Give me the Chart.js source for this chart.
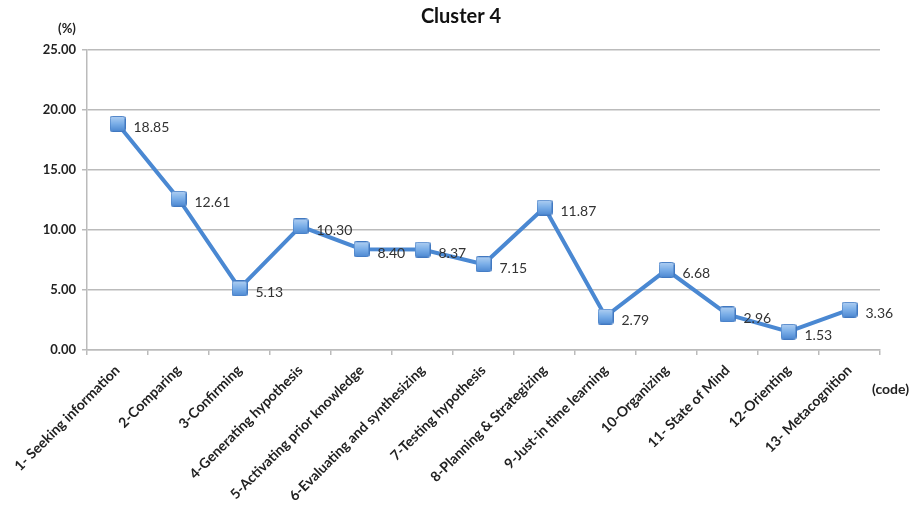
<!DOCTYPE html>
<html>
<head>
<meta charset="utf-8">
<title>Cluster 4</title>
<script src="https://cdn.jsdelivr.net/npm/chart.js@4.4.0/dist/chart.umd.min.js"></script>
<style>
  html, body { margin: 0; padding: 0; background: #fff; }
  #wrap { width: 917px; height: 524px; }
</style>
</head>
<body>
<div id="wrap"><canvas id="chart" width="917" height="524"></canvas></div>
<script>
const codes = [
    '1- Seeking information', '2-Comparing', '3-Confirming', '4-Generating hypothesis',
    '5-Activating prior knowledge', '6-Evaluating and synthesizing', '7-Testing hypothesis',
    '8-Planning & Strategizing', '9-Just-in time learning', '10-Organizing',
    '11- State of Mind', '12-Orienting', '13- Metacognition'
];
const percentages = [18.85, 12.61, 5.13, 10.30, 8.40, 8.37, 7.15, 11.87, 2.79, 6.68, 2.96, 1.53, 3.36];
const yTicks = [0, 5, 10, 15, 20, 25];

const FONT = 'Lato, "Open Sans", sans-serif';

// square marker with a soft blue gradient
function makeMarker() {
    const c = document.createElement('canvas');
    c.width = 16; c.height = 16;
    const g = c.getContext('2d');
    const grad = g.createLinearGradient(0, 0, 0, 16);
    grad.addColorStop(0, '#b3d1f3');
    grad.addColorStop(0.5, '#7aaee8');
    grad.addColorStop(1, '#4a86d0');
    g.fillStyle = grad;
    g.strokeStyle = '#4178c0';
    g.lineWidth = 1;
    g.beginPath();
    g.roundRect(0.5, 0.5, 15, 15, 2);
    g.fill();
    g.stroke();
    return c;
}
const marker = makeMarker();

// value labels beside each point, plus title and axis units
const annotations = {
    id: 'annotations',
    afterDatasetsDraw(chart) {
        const ctx = chart.ctx;
        const meta = chart.getDatasetMeta(0);
        ctx.save();
        ctx.fillStyle = '#333';
        ctx.font = '14px ' + FONT;
        ctx.textAlign = 'left';
        ctx.textBaseline = 'middle';
        meta.data.forEach((pt, i) => {
            ctx.fillText(percentages[i].toFixed(2), pt.x + 16, pt.y + 4);
        });
        ctx.restore();
    },
    afterDraw(chart) {
        const ctx = chart.ctx;
        ctx.save();
        ctx.fillStyle = '#111';
        ctx.textBaseline = 'middle';
        ctx.textAlign = 'center';
        ctx.font = 'bold 20px ' + FONT;
        ctx.fillText('Cluster 4', 461, 17);
        ctx.font = 'bold 13px ' + FONT;
        ctx.fillStyle = '#222';
        ctx.fillText('(%)', 67, 29);
        ctx.textAlign = 'left';
        ctx.font = 'bold 14px ' + FONT;
        ctx.fillText('(code)', 872, 389);
        ctx.restore();
    }
};

new Chart(document.getElementById('chart'), {
    type: 'line',
    data: {
        labels: codes,
        datasets: [{
            data: percentages,
            borderColor: '#4a88d2',
            borderWidth: 4,
            pointStyle: marker,
            pointRadius: 8,
            tension: 0
        }]
    },
    options: {
        responsive: false,
        animation: false,
        layout: { padding: { top: 50, right: 37, left: 0, bottom: 0 } },
        plugins: {
            legend: { display: false },
            tooltip: { enabled: false }
        },
        scales: {
            x: {
                offset: true,
                grid: { offset: true, drawOnChartArea: false, color: '#bbb', tickLength: 5, lineWidth: 1.5 },
                border: { color: '#bbb', width: 1.5 },
                ticks: {
                    minRotation: 45,
                    maxRotation: 45,
                    autoSkip: false,
                    padding: 7,
                    color: '#222',
                    font: { family: FONT, size: 14, weight: 'bold' }
                },
                afterFit(scale) {
                    scale.height = 174;
                    scale.paddingLeft = 0;
                    scale.paddingRight = 0;
                }
            },
            y: {
                min: 0,
                max: 25,
                afterBuildTicks(scale) {
                    scale.ticks = yTicks.map(v => ({ value: v }));
                },
                grid: { color: '#bbb', lineWidth: 1.5, drawTicks: true, tickLength: 5 },
                border: { color: '#bbb', width: 1.5 },
                ticks: {
                    padding: 6,
                    color: '#222',
                    font: { family: FONT, size: 13, weight: 'bold' },
                    callback: v => v.toFixed(2)
                },
                afterFit(scale) {
                    scale.width = 87;
                    scale.paddingTop = 0;
                    scale.paddingBottom = 0;
                }
            }
        }
    },
    plugins: [annotations]
});
</script>
</body>
</html>
